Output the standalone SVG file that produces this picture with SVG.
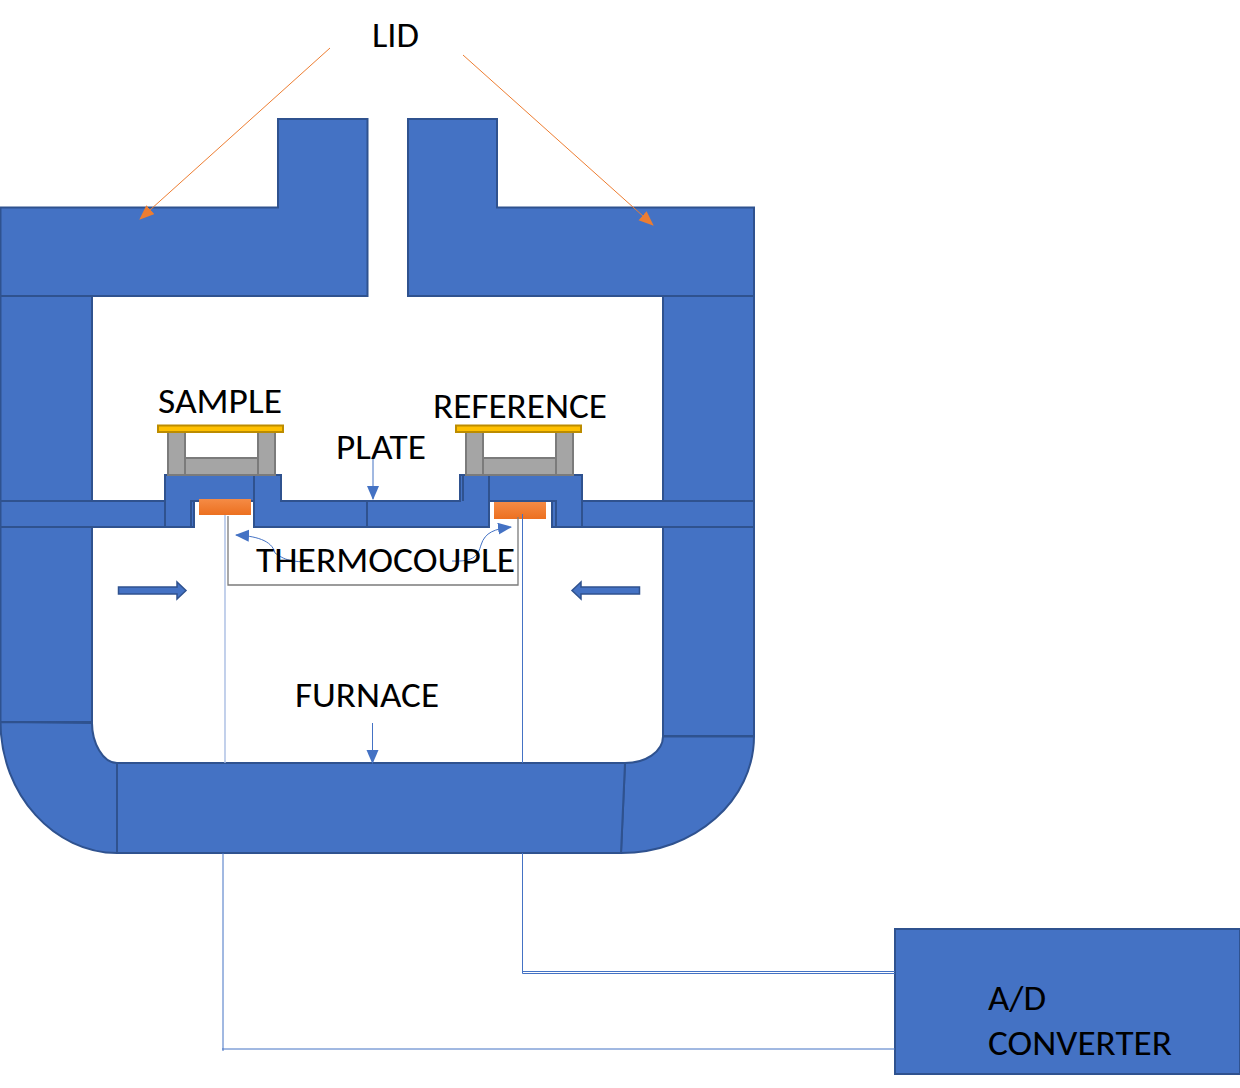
<svg xmlns="http://www.w3.org/2000/svg" width="1240" height="1088" viewBox="0 0 1240 1088">
<defs>
<style>
.b{fill:#4472c4;stroke:#2f528f;stroke-width:2}
.g{fill:#a5a5a5;stroke:#7b7b7b;stroke-width:2}
.y{fill:#ffc000;stroke:#bc8c00;stroke-width:2}
.o{fill:url(#og)}
.t{font-family:Carlito,Lato,"Open Sans",sans-serif;font-size:35px;fill:#000}
.w{fill:none;stroke:#4472c4;stroke-width:1}
.wl{fill:none;stroke:#a9bde3;stroke-width:1.4}
.la{fill:none;stroke:#ed7d31;stroke-width:1;marker-end:url(#ao)}
.ba{fill:none;stroke:#4472c4;stroke-width:1;marker-end:url(#ab)}
</style>
<linearGradient id="og" x1="0" y1="0" x2="0" y2="1"><stop offset="0" stop-color="#f58b45"/><stop offset="1" stop-color="#ec7020"/></linearGradient>
<marker id="ao" markerWidth="16" markerHeight="14" refX="14" refY="6" orient="auto" markerUnits="userSpaceOnUse"><path d="M0,0L15,6L0,12z" fill="#ed7d31"/></marker>
<marker id="ab" markerWidth="16" markerHeight="14" refX="13" refY="6" orient="auto" markerUnits="userSpaceOnUse"><path d="M0,0L14,6L0,12z" fill="#4472c4"/></marker>
</defs>
<g id="furnace">
<path class="b" d="M278,119H367.500V296H0.500V207.500H278z"/>
<path class="b" d="M408,119H497V207.500H754V296H408z"/>
<rect class="b" x="0.500" y="296" width="91.500" height="426"/>
<rect class="b" x="663" y="296" width="91" height="440"/>
<path class="b" d="M0.500,722L92,723C92,743 103,763 117,763V853C55,853 0.500,795 0.500,722z"/>
<path class="b" d="M663,736.500H754C754,800 695,853 621,853L625,763C645,763 663,752 663,736.500z"/>
<path class="b" d="M117,763H625L621,853H117z"/>
</g>
<g id="plate">
<rect class="b" x="0.500" y="501" width="164.500" height="26"/>
<rect class="b" x="582" y="501" width="172" height="26"/>
<path class="b" d="M254,475H281V501H367V527H254z"/>
<path class="b" d="M367,501H460V475H489V527H367z"/>
<path class="b" d="M165,475H254V501H191V527H165z"/>
<rect class="b" x="191" y="501" width="3" height="26"/>
<path class="b" d="M463,475V501"/>
<path class="b" d="M489,475H582V527H556V501H489z"/>
<rect class="b" x="552" y="501" width="4" height="26"/>
</g>
<g id="sample-holder">
<rect class="g" x="185" y="458" width="73" height="17"/>
<rect class="g" x="168" y="432" width="17" height="43"/>
<rect class="g" x="258" y="432" width="17" height="43"/>
<rect class="y" x="158" y="425.500" width="125" height="6.500"/>
<rect class="o" x="199" y="499" width="52" height="16"/>
</g>
<g id="reference-holder">
<rect class="g" x="483" y="458" width="73" height="17"/>
<rect class="g" x="466" y="432" width="17" height="43"/>
<rect class="g" x="556" y="432" width="17" height="43"/>
<rect class="y" x="456" y="425.500" width="125" height="6.500"/>
<rect class="o" x="494" y="502" width="52" height="17"/>
</g>
<g id="ad-converter">
<rect class="b" x="895" y="929" width="345" height="145"/>
<text class="t" x="988" y="1010" textLength="58" lengthAdjust="spacingAndGlyphs">A/D</text>
<text class="t" x="988" y="1055" textLength="184" lengthAdjust="spacingAndGlyphs">CONVERTER</text>
</g>
<g id="connectors">
<path class="wl" d="M225,515V763"/>
<path class="w" d="M522.500,514V763"/>
<path class="w" d="M223,853V1051M222,1049H895"/>
<path class="w" d="M522.500,853V973.500H895M522,971.500H895"/>
<path d="M228,516V585H518V517" fill="none" stroke="#7b7b7b" stroke-width="1.300"/>
<path class="ba" d="M313,562C290,562 285,560 275,553C272,540 255,536 236,535"/>
<path class="ba" d="M452,561C475,562 478,555 481,545C485,532 495,529 511,527"/>
<path class="ba" d="M373,458V499"/>
<path class="ba" d="M372.500,723V763"/>
<path class="la" d="M330,48L140,219"/>
<path class="la" d="M463,55L653,225"/>
<path fill="#4472c4" stroke="#2f528f" stroke-width="1.500" d="M118.500,587H177V582L186,590.500L177,599V594H118.500z"/>
<path fill="#4472c4" stroke="#2f528f" stroke-width="1.500" d="M639.500,587H581V582L572,590.500L581,599V594H639.500z"/>
</g>
<g id="labels">
<text class="t" x="372" y="47" textLength="47" lengthAdjust="spacingAndGlyphs">LID</text>
<text class="t" x="158" y="413" textLength="124" lengthAdjust="spacingAndGlyphs">SAMPLE</text>
<text class="t" x="433" y="418" textLength="174" lengthAdjust="spacingAndGlyphs">REFERENCE</text>
<text class="t" x="336" y="459" textLength="90" lengthAdjust="spacingAndGlyphs">PLATE</text>
<text class="t" x="256" y="572" textLength="259" lengthAdjust="spacingAndGlyphs">THERMOCOUPLE</text>
<text class="t" x="295" y="707" textLength="144" lengthAdjust="spacingAndGlyphs">FURNACE</text>
</g>
</svg>
